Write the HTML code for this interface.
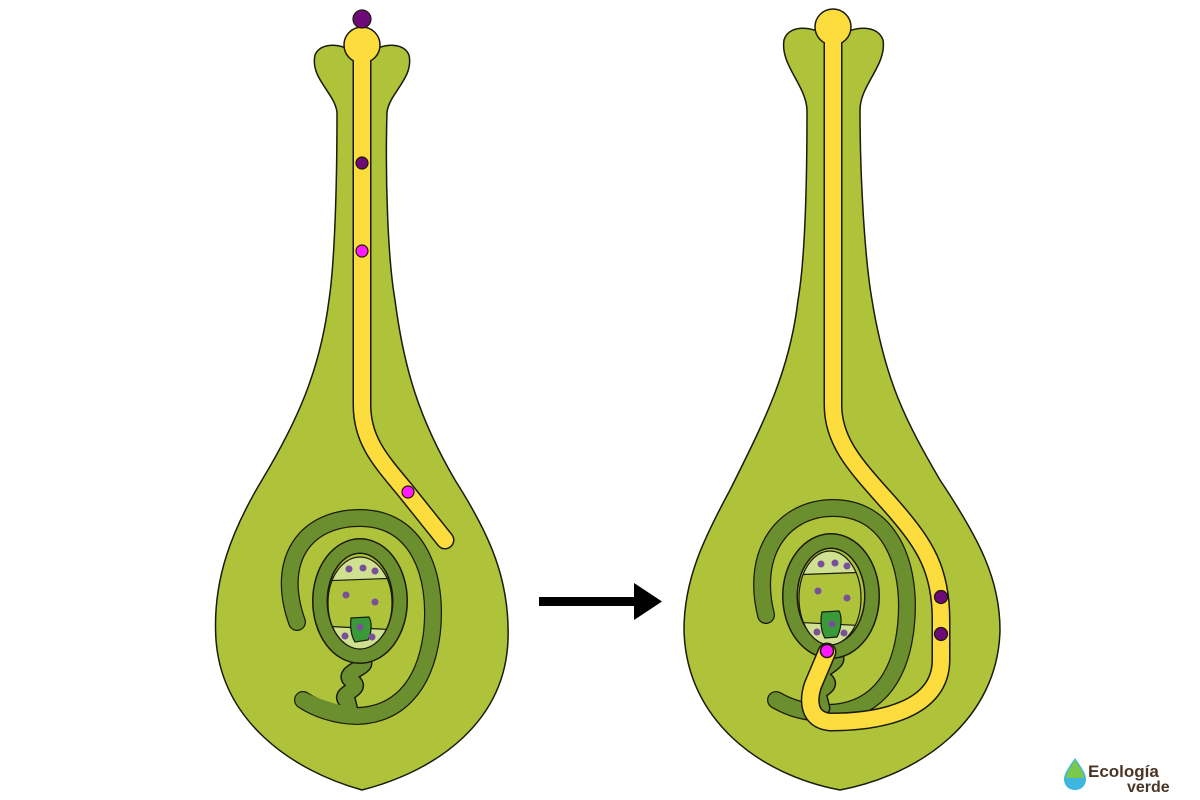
<!DOCTYPE html>
<html><head><meta charset="utf-8"><style>
html,body{margin:0;padding:0;background:#fff;}
svg{display:block;}
</style></head><body>
<svg width="1200" height="800" viewBox="0 0 1200 800" xmlns="http://www.w3.org/2000/svg">
<g stroke="#1a1a0a" stroke-width="1.5">
<path fill="#aec33a" d="M 362,62 C 370,45 402,38 409,55 C 414,78 390,92 387,112 C 385,180 388,260 395,300 C 404,370 420,420 455,480 C 490,535 510,580 508,640 C 505,720 440,770 362,790 C 290,770 222,720 216,640 C 212,580 232,530 262,480 C 298,420 320,370 329,300 C 335,260 337,180 337,112 C 334,92 310,78 315,55 C 322,38 354,45 362,62 Z"/>
<path fill="#aec33a" d="M 833,45 C 840,28 876,20 883,40 C 887,65 860,85 860,110 C 860,180 865,260 872,300 C 885,380 905,420 940,480 C 980,540 1000,580 1000,630 C 998,720 920,775 840,790 C 760,775 686,720 684,630 C 684,580 703,540 730,490 C 765,420 790,370 798,300 C 805,260 807,180 807,110 C 806,85 780,65 784,40 C 790,20 826,28 833,45 Z"/>
</g>

<g fill="none" stroke-linecap="round" stroke-linejoin="round">
<path d="M 362,45 L 362,405 C 362,440 380,460 405,490 L 445,540" stroke="#1a1a0a" stroke-width="19"/>
<path d="M 362,45 L 362,405 C 362,440 380,460 405,490 L 445,540" stroke="#fddc3e" stroke-width="16"/>
</g>
<circle cx="362" cy="45" r="18" fill="#fddc3e" stroke="#1a1a0a" stroke-width="1.5"/>
<rect x="354" y="50" width="16" height="16" fill="#fddc3e"/>
<circle cx="362" cy="19" r="9" fill="#6e0a78" stroke="#1a1a0a" stroke-width="1.2"/>
<circle cx="362" cy="163" r="6" fill="#6e0a78" stroke="#1a1a0a" stroke-width="1.2"/>
<circle cx="362" cy="251" r="6" fill="#ff1aff" stroke="#1a1a0a" stroke-width="1.2"/>
<circle cx="408" cy="492" r="6" fill="#ff1aff" stroke="#1a1a0a" stroke-width="1.2"/>

<g fill="none" stroke-linecap="round">
<path d="M 297,622 C 275,560 305,518 360,518 C 418,518 438,575 432,632 C 425,690 395,715 357,716 C 335,716 315,708 303,700" stroke="#1a1a0a" stroke-width="18"/>
<path d="M 297,622 C 275,560 305,518 360,518 C 418,518 438,575 432,632 C 425,690 395,715 357,716 C 335,716 315,708 303,700" stroke="#6b8f2e" stroke-width="15.5"/>
<path d="M 360,660 C 376,666 338,672 352,681 C 366,690 334,693 348,702 L 350,710" stroke="#1a1a0a" stroke-width="17"/>
<path d="M 360,660 C 376,666 338,672 352,681 C 366,690 334,693 348,702 L 350,710" stroke="#6b8f2e" stroke-width="14"/>
<path d="M 303,700 C 320,708 340,714 357,716" stroke="#6b8f2e" stroke-width="15.5"/>
</g>
<ellipse cx="360" cy="601" rx="40" ry="55" fill="none" stroke="#1a1a0a" stroke-width="16"/>
<ellipse cx="360" cy="601" rx="40" ry="55" fill="none" stroke="#6b8f2e" stroke-width="13"/>
<g>
<clipPath id="esl"><ellipse cx="360" cy="603" rx="32" ry="46"/></clipPath>
<ellipse cx="360" cy="603" rx="32" ry="46" fill="#cfe091"/>
<path clip-path="url(#esl)" d="M 320,581 L 400,578 L 400,630 L 320,626 Z" fill="#aec33a" stroke="#1a1a0a" stroke-width="1.2"/>
<ellipse cx="360" cy="603" rx="32" ry="46" fill="none" stroke="#1a1a0a" stroke-width="1.2"/>
<path d="M 351,618 L 369,617 C 372,622 372,632 368,640 L 355,642 C 351,636 350,626 351,618 Z" fill="#3a9a3a" stroke="#1a1a0a" stroke-width="1.2"/>
<g fill="#7a4f9a"><circle cx="349" cy="569" r="3.5"/><circle cx="363" cy="568" r="3.5"/><circle cx="375" cy="571" r="3.5"/><circle cx="346" cy="595" r="3.5"/><circle cx="375" cy="602" r="3.5"/><circle cx="345" cy="636" r="3.5"/><circle cx="360" cy="627" r="3.5"/><circle cx="372" cy="637" r="3.5"/></g>
</g>

<g fill="none" stroke-linecap="round">
<path d="M 766,615 C 750,550 785,508 833,508 C 890,508 912,565 906,625 C 900,685 870,712 828,713 C 805,713 790,708 776,700" stroke="#1a1a0a" stroke-width="18"/>
<path d="M 766,615 C 750,550 785,508 833,508 C 890,508 912,565 906,625 C 900,685 870,712 828,713 C 805,713 790,708 776,700" stroke="#6b8f2e" stroke-width="15.5"/>
<path d="M 832,655 C 848,662 810,670 824,679 C 838,688 806,691 820,700 L 822,708" stroke="#1a1a0a" stroke-width="17"/>
<path d="M 832,655 C 848,662 810,670 824,679 C 838,688 806,691 820,700 L 822,708" stroke="#6b8f2e" stroke-width="14"/>
</g>
<ellipse cx="831" cy="596" rx="41" ry="55" fill="none" stroke="#1a1a0a" stroke-width="16"/>
<ellipse cx="831" cy="596" rx="41" ry="55" fill="none" stroke="#6b8f2e" stroke-width="13"/>
<g>
<clipPath id="esr"><ellipse cx="830" cy="598" rx="31" ry="47"/></clipPath>
<ellipse cx="830" cy="598" rx="31" ry="47" fill="#cfe091"/>
<path clip-path="url(#esr)" d="M 790,575 L 870,572 L 870,626 L 790,622 Z" fill="#aec33a" stroke="#1a1a0a" stroke-width="1.2"/>
<ellipse cx="830" cy="598" rx="31" ry="47" fill="none" stroke="#1a1a0a" stroke-width="1.2"/>
<path d="M 822,612 L 839,611 C 842,616 842,628 837,637 L 825,638 C 821,632 820,620 822,612 Z" fill="#3a9a3a" stroke="#1a1a0a" stroke-width="1.2"/>
<g fill="#7a4f9a"><circle cx="821" cy="564" r="3.5"/><circle cx="835" cy="563" r="3.5"/><circle cx="847" cy="566" r="3.5"/><circle cx="818" cy="591" r="3.5"/><circle cx="847" cy="598" r="3.5"/><circle cx="817" cy="632" r="3.5"/><circle cx="832" cy="624" r="3.5"/><circle cx="844" cy="633" r="3.5"/></g>
</g>

<g fill="none" stroke-linecap="round" stroke-linejoin="round">
<path d="M 833,28 L 833,405 C 833,445 860,470 895,510 C 925,545 941,570 941,620 L 941,660 C 941,710 880,722 830,722 C 808,720 808,700 813,685 L 827,652" stroke="#1a1a0a" stroke-width="19"/>
<path d="M 833,28 L 833,405 C 833,445 860,470 895,510 C 925,545 941,570 941,620 L 941,660 C 941,710 880,722 830,722 C 808,720 808,700 813,685 L 827,652" stroke="#fddc3e" stroke-width="16"/>
</g>
<circle cx="833" cy="27" r="18" fill="#fddc3e" stroke="#1a1a0a" stroke-width="1.5"/>
<rect x="825" y="32" width="16" height="16" fill="#fddc3e"/>
<circle cx="941" cy="597" r="6.5" fill="#6e0a78" stroke="#1a1a0a" stroke-width="1.2"/>
<circle cx="941" cy="634" r="6.5" fill="#6e0a78" stroke="#1a1a0a" stroke-width="1.2"/>
<circle cx="827" cy="651" r="6.5" fill="#ff1aff" stroke="#1a1a0a" stroke-width="1.5"/>

<rect x="539" y="597" width="100" height="9" fill="#000"/>
<polygon points="634,583 662,601.5 634,620" fill="#000"/>

<path d="M 1075,758 C 1068,768 1064,774 1064,779 C 1064,786 1069,790 1075,790 C 1081,790 1086,786 1086,779 C 1086,774 1082,768 1075,758 Z" fill="#3fb6e0"/>
<path d="M 1075,760 C 1069,769 1066,774 1066,778 L 1084,778 C 1084,774 1081,769 1075,760 Z" fill="#7cc84a"/>
<text x="1088" y="777" font-family="Liberation Sans, sans-serif" font-size="17" font-weight="bold" fill="#4a3626">Ecología</text>
<text x="1127" y="792" font-family="Liberation Sans, sans-serif" font-size="16" font-weight="bold" fill="#4a3626">verde</text>
</svg>
</body></html>
